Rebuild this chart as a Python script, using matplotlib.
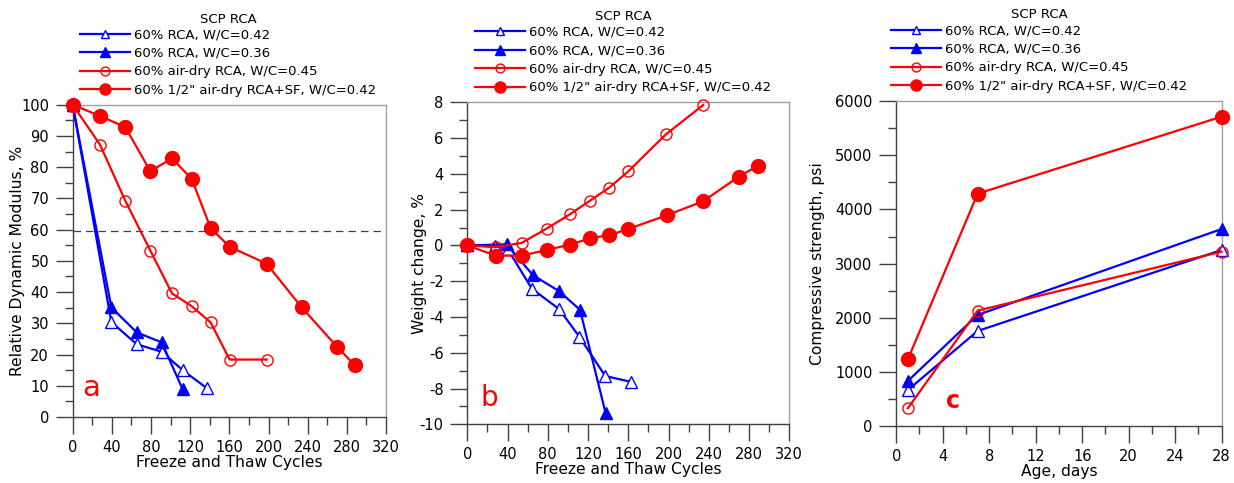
import matplotlib
matplotlib.use("Agg")
import matplotlib.pyplot as plt
from matplotlib.ticker import MultipleLocator

plt.rcParams['font.family'] = ['DejaVu Sans']
plt.rcParams['axes.unicode_minus'] = False

BLUE = '#0000ff'
RED = '#ff0000'

labels = ['60% RCA, W/C=0.42', '60% RCA, W/C=0.36',
          '60% air-dry RCA, W/C=0.45', '60% 1/2" air-dry RCA+SF, W/C=0.42']

# Panel a: relative dynamic modulus
a_x_rca42 = [0, 39.5, 65.4, 90.9, 112.3, 137.2]
a_y_rca42 = [100, 30.4, 23.3, 20.9, 15.0, 9.2]
a_x_rca36 = [0, 39.5, 65.4, 90.9, 112.3]
a_y_rca36 = [100, 35.1, 27.1, 23.9, 8.9]
a_x_air45 = [0, 27.9, 53.8, 79.3, 101.4, 121.5, 140.9, 160.3, 198.1]
a_y_air45 = [100, 87.2, 69.2, 53.3, 39.6, 35.5, 30.3, 18.4, 18.4]
a_x_sf42 = [0, 27.9, 53.8, 79.3, 101.4, 121.5, 140.9, 160.3, 198.1, 233.9, 270.3, 288.3]
a_y_sf42 = [100, 96.4, 92.8, 78.7, 82.8, 76.3, 60.5, 54.5, 49.1, 35.1, 22.4, 16.5]
a_limit = 59.6

# Panel b: weight change
b_x_rca42 = [0, 28, 40, 64.3, 91.1, 111.3, 137.1, 163]
b_y_rca42 = [0, -0.05, -0.2, -2.43, -3.55, -5.1, -7.3, -7.63]
b_x_rca36 = [0, 39.1, 65.3, 91.1, 112, 137.5]
b_y_rca36 = [0, 0.06, -1.67, -2.55, -3.6, -9.38]
b_x_air45 = [0, 28.2, 54.0, 78.8, 102, 121.9, 141.1, 160, 197.4, 234.5]
b_y_air45 = [0, -0.1, 0.14, 0.94, 1.74, 2.5, 3.23, 4.14, 6.21, 7.85]
b_x_sf42 = [0, 28.2, 54.7, 78.8, 102, 121.9, 141.1, 160, 198, 234.5, 270, 288.5]
b_y_sf42 = [0, -0.57, -0.57, -0.25, 0.04, 0.4, 0.57, 0.92, 1.68, 2.47, 3.85, 4.44]

# Panel c: compressive strength
c_age = [1, 7, 28]
c_rca42 = [670, 1758, 3252]
c_rca36 = [836, 2053, 3639]
c_air45 = [332, 2133, 3221]
c_sf42 = [1236, 4291, 5711]

fig = plt.figure(figsize=(12.34, 4.83), dpi=100)
axA = fig.add_axes([0.0589, 0.1366, 0.2539, 0.6466])
axB = fig.add_axes([0.3787, 0.1215, 0.2609, 0.6667])
axC = fig.add_axes([0.7263, 0.1174, 0.2637, 0.6735])

styles = [
    dict(color=BLUE, marker='^', mfc='white', mec=BLUE, ms=8, mew=1.0),
    dict(color=BLUE, marker='^', mfc=BLUE, mec=BLUE, ms=8.5, mew=1.0),
    dict(color=RED, marker='o', mfc='none', mec=RED, ms=8, mew=1.0),
    dict(color=RED, marker='o', mfc=RED, mec=RED, ms=10, mew=1.0),
]

TICK_FS = 10.5
LABEL_FS = 11.2
LEG_FS = 9.5


def plot_series(ax, xs, ys):
    for (x, y), st, lab in zip(zip(xs, ys), styles, labels):
        ax.plot(x, y, lw=1.6, label=lab, clip_on=False, zorder=3, **st)


def style_axes(ax):
    for s in ['left', 'bottom']:
        ax.spines[s].set_color('#404040')
    for s in ['top', 'right']:
        ax.spines[s].set_color('#a0a0a0')
    for s in ax.spines.values():
        s.set_linewidth(1.0)
    ax.tick_params(which='major', direction='out', length=12, width=1,
                   color='#404040', labelsize=TICK_FS)
    ax.tick_params(axis='x', which='major', pad=4.5)
    ax.tick_params(axis='y', which='major', pad=5)
    ax.tick_params(which='minor', direction='out', length=6, width=1,
                   color='#404040')
    ax.tick_params(top=False, right=False)


def add_legend(ax, x0):
    leg = ax.legend(loc='lower left', bbox_to_anchor=(x0, 1.025), frameon=False,
                    title='SCP RCA', fontsize=LEG_FS, title_fontsize=LEG_FS,
                    handlelength=3.8, handletextpad=0.3, labelspacing=0.42,
                    borderpad=0, borderaxespad=0, markerscale=0.8)
    leg._legend_box.sep = 2
    return leg


# Panel a
plot_series(axA, [a_x_rca42, a_x_rca36, a_x_air45, a_x_sf42],
            [a_y_rca42, a_y_rca36, a_y_air45, a_y_sf42])
axA.axhline(a_limit, color='#404040', lw=0.9, ls=(0, (6, 4)), zorder=1)
axA.set_xlim(0, 320)
axA.set_ylim(0, 100)
axA.xaxis.set_major_locator(MultipleLocator(40))
axA.xaxis.set_minor_locator(MultipleLocator(20))
axA.yaxis.set_major_locator(MultipleLocator(10))
axA.yaxis.set_minor_locator(MultipleLocator(5))
axA.set_xlabel('Freeze and Thaw Cycles', fontsize=LABEL_FS, labelpad=0)
axA.set_ylabel('Relative Dynamic Modulus, %', fontsize=LABEL_FS, labelpad=-2.5)
axA.text(18.4, 9.2, 'a', color=RED, fontsize=21, ha='center', va='center')
style_axes(axA)
add_legend(axA, 0.023)

# Panel b
plot_series(axB, [b_x_rca42, b_x_rca36, b_x_air45, b_x_sf42],
            [b_y_rca42, b_y_rca36, b_y_air45, b_y_sf42])
axB.set_xlim(0, 320)
axB.set_ylim(-10, 8)
axB.xaxis.set_major_locator(MultipleLocator(40))
axB.xaxis.set_minor_locator(MultipleLocator(20))
axB.yaxis.set_major_locator(MultipleLocator(2))
axB.yaxis.set_minor_locator(MultipleLocator(1))
axB.set_xlabel('Freeze and Thaw Cycles', fontsize=LABEL_FS, labelpad=0)
axB.set_ylabel('Weight change, %', fontsize=LABEL_FS, labelpad=-5.5)
axB.text(21.9, -8.55, 'b', color=RED, fontsize=20, ha='center', va='center')
style_axes(axB)
add_legend(axB, 0.024)

# Panel c
plot_series(axC, [c_age] * 4, [c_rca42, c_rca36, c_air45, c_sf42])
axC.set_xlim(0, 28)
axC.set_ylim(0, 6000)
axC.xaxis.set_major_locator(MultipleLocator(4))
axC.xaxis.set_minor_locator(MultipleLocator(2))
axC.yaxis.set_major_locator(MultipleLocator(1000))
axC.yaxis.set_minor_locator(MultipleLocator(500))
axC.set_xlabel('Age, days', fontsize=LABEL_FS, labelpad=0)
axC.set_ylabel('Compressive strength, psi', fontsize=LABEL_FS, labelpad=7)
axC.text(4.85, 467, 'c', color=RED, fontsize=17, fontweight='bold',
         ha='center', va='center')
style_axes(axC)
add_legend(axC, -0.016)

fig.savefig('out.png', dpi=100)
